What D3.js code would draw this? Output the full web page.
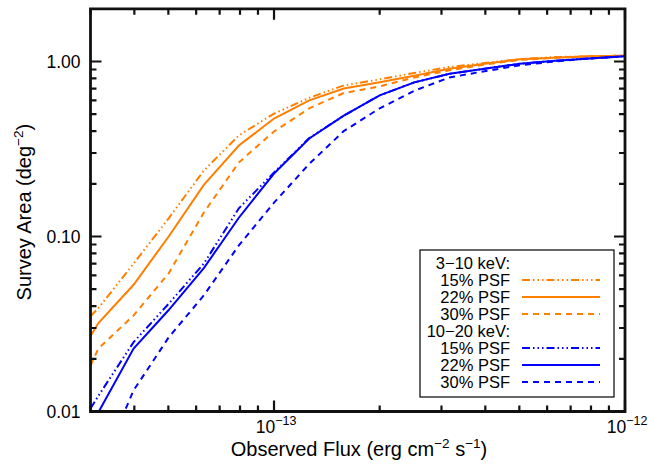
<!DOCTYPE html>
<html>
<head>
<meta charset="utf-8">
<script src="https://cdn.jsdelivr.net/npm/d3@7"></script>
<style>
  body { margin: 0; background: #fff; }
  svg { font-family: "Liberation Sans", Arial, Helvetica, sans-serif; }
</style>
</head>
<body>
<div id="chart"></div>
<script>
// flux grid (erg cm^-2 s^-1), 0.1 dex steps from 10^-13.5, plus left edge
var flux = [3.0e-14, 3.16e-14, 3.98e-14, 5.01e-14, 6.31e-14, 7.94e-14, 1.0e-13,
            1.26e-13, 1.58e-13, 2.0e-13, 2.51e-13, 3.16e-13, 3.98e-13, 5.01e-13,
            6.31e-13, 7.94e-13, 1.0e-12];

// 3-10 keV
var soft15 = [0.035, 0.039, 0.070, 0.127, 0.238, 0.378, 0.504, 0.62, 0.73, 0.79, 0.86, 0.93, 0.98, 1.03, 1.06, 1.07, 1.08];
var soft22 = [0.027, 0.032, 0.053, 0.100, 0.197, 0.331, 0.472, 0.60, 0.70, 0.76, 0.83, 0.91, 0.97, 1.03, 1.05, 1.07, 1.08];
var soft30 = [0.0183, 0.0229, 0.0354, 0.0616, 0.137, 0.265, 0.398, 0.54, 0.66, 0.72, 0.81, 0.89, 0.96, 1.02, 1.05, 1.07, 1.08];
// 10-20 keV
var hard15 = [0.0104, 0.0123, 0.0249, 0.0413, 0.070, 0.145, 0.232, 0.365, 0.49, 0.64, 0.76, 0.85, 0.91, 0.97, 1.01, 1.04, 1.07];
var hard22 = [0.0085, 0.0099, 0.0229, 0.038, 0.066, 0.128, 0.229, 0.363, 0.49, 0.64, 0.76, 0.85, 0.91, 0.97, 1.01, 1.04, 1.07];
var hard30 = [0.0036, 0.0045, 0.0132, 0.0265, 0.0461, 0.089, 0.156, 0.26, 0.40, 0.54, 0.68, 0.81, 0.88, 0.95, 1.00, 1.04, 1.07];

var xMajor = [1e-13, 1e-12];
var xMajorExp = ["\u221213", "\u221212"];
var yMajor = [0.01, 0.1, 1];
var yMajorLabels = ["0.01", "0.10", "1.00"];

var orange = "#ff7f00";
var blue = "#0000ff";
var ink = "#111111";
var dashDot3 = "8,3,1.5,3,1.5,3,1.5,3";
var dashes = "6,5";

var series = [
  {head: "3\u221210 keV:"},
  {name: "15% PSF", vals: soft15, color: orange, dash: dashDot3},
  {name: "22% PSF", vals: soft22, color: orange, dash: null},
  {name: "30% PSF", vals: soft30, color: orange, dash: dashes},
  {head: "10\u221220 keV:"},
  {name: "15% PSF", vals: hard15, color: blue, dash: dashDot3},
  {name: "22% PSF", vals: hard22, color: blue, dash: null},
  {name: "30% PSF", vals: hard30, color: blue, dash: dashes}
];

var width = 649, height = 470;
var pLeft = 90.5, pRight = 625, pTop = 8.8, pBottom = 411.5;

var svg = d3.select("#chart").append("svg")
  .attr("width", width)
  .attr("height", height);

var x = d3.scaleLog().domain([3e-14, 1e-12]).range([pLeft, pRight]);
var y = d3.scaleLog().domain([0.01, 2.0]).range([pBottom, pTop]);

// minor tick values
var xMinor = [];
[1e-14, 1e-13].forEach(function(base) {
  for (var k = 2; k <= 9; k++) {
    var v = k * base;
    if (v >= 3e-14 && v < 1e-12) xMinor.push(v);
  }
});
var yMinor = [];
[0.01, 0.1, 1].forEach(function(base) {
  for (var k = 2; k <= 9; k++) {
    var v = k * base;
    if (v < 1.99) yMinor.push(v);
  }
});

// curves, clipped by a nested svg viewport
var plotArea = svg.append("svg")
  .attr("x", pLeft).attr("y", pTop)
  .attr("width", pRight - pLeft).attr("height", pBottom - pTop)
  .attr("overflow", "hidden");
var curves = plotArea.append("g")
  .attr("transform", "translate(" + (-pLeft) + "," + (-pTop) + ")");

var curveLine = d3.line()
  .x(function(d) { return x(d[0]); })
  .y(function(d) { return y(d[1]); });

series.filter(function(s) { return s.vals; }).forEach(function(s) {
  curves.append("path")
    .attr("d", curveLine(flux.map(function(f, i) { return [f, s.vals[i]]; })))
    .attr("fill", "none")
    .attr("stroke", s.color)
    .attr("stroke-width", 2)
    .attr("stroke-dasharray", s.dash);
});

// frame as one filled ring, ticks as filled bars
var fw = 2.8;
var ring = d3.path();
ring.rect(pLeft - fw / 2, pTop - fw / 2, pRight - pLeft + fw, pBottom - pTop + fw);
ring.rect(pLeft + fw / 2, pTop + fw / 2, pRight - pLeft - fw, pBottom - pTop - fw);
svg.append("path")
  .attr("d", ring.toString())
  .attr("fill", ink)
  .attr("fill-rule", "evenodd");

var xTicks = xMajor.map(function(v) { return {v: v, len: 11}; })
  .concat(xMinor.map(function(v) { return {v: v, len: 6}; }));
var yTicks = yMajor.map(function(v) { return {v: v, len: 11}; })
  .concat(yMinor.map(function(v) { return {v: v, len: 6}; }));
var tw = 2.2;
var bars = d3.path();
xTicks.forEach(function(t) {
  var px = x(t.v);
  bars.rect(px - tw / 2, pBottom - t.len, tw, t.len);
  bars.rect(px - tw / 2, pTop, tw, t.len);
});
yTicks.forEach(function(t) {
  var py = y(t.v);
  bars.rect(pLeft, py - tw / 2, t.len, tw);
  bars.rect(pRight - t.len, py - tw / 2, t.len, tw);
});
svg.append("path")
  .attr("d", bars.toString())
  .attr("fill", ink);

// tick labels
svg.selectAll(".ylab").data(yMajor).enter().append("text")
  .attr("x", pLeft - 10)
  .attr("y", function(d) { return y(d) + 6.5; })
  .attr("text-anchor", "end")
  .attr("font-size", 17.5)
  .text(function(d, i) { return yMajorLabels[i]; });

var xl = svg.selectAll(".xlab").data(xMajor).enter().append("text")
  .attr("x", function(d) { return x(d) + 2; })
  .attr("y", 433)
  .attr("text-anchor", "middle")
  .attr("font-size", 17.5);
xl.append("tspan").text("10");
xl.append("tspan").attr("dy", -8).attr("font-size", 12.5).text(function(d, i) { return xMajorExp[i]; });

// axis titles
var xt = svg.append("text")
  .attr("x", 359)
  .attr("y", 456)
  .attr("text-anchor", "middle")
  .attr("font-size", 20);
xt.append("tspan").text("Observed Flux (erg cm");
xt.append("tspan").attr("dy", -8).attr("font-size", 13.5).text("\u22122");
xt.append("tspan").attr("dy", 8).text(" s");
xt.append("tspan").attr("dy", -8).attr("font-size", 13.5).text("\u22121");
xt.append("tspan").attr("dy", 8).text(")");

var yt = svg.append("text")
  .attr("transform", "translate(31," + ((pTop + pBottom) / 2 + 2) + ") rotate(-90)")
  .attr("text-anchor", "middle")
  .attr("font-size", 20);
yt.append("tspan").text("Survey Area (deg");
yt.append("tspan").attr("dy", -8).attr("font-size", 13.5).text("\u22122");
yt.append("tspan").attr("dy", 8).text(")");

// legend
var lg = svg.append("g").attr("transform", "translate(420,250)");
lg.append("rect")
  .attr("width", 194).attr("height", 147)
  .attr("fill", "#fff").attr("stroke", "#000").attr("stroke-width", 1.2);

var rows = lg.selectAll(".legend").data(series).enter().append("g")
  .attr("class", "legend")
  .attr("transform", function(d, i) { return "translate(0," + (13 + i * 17) + ")"; });

rows.append("text")
  .attr("x", 90)
  .attr("y", 5.5)
  .attr("text-anchor", "end")
  .attr("font-size", 16.5)
  .text(function(d) { return d.head || d.name; });

rows.filter(function(d) { return d.vals; }).append("line")
  .attr("x1", 102).attr("x2", 180)
  .attr("stroke", function(d) { return d.color; })
  .attr("stroke-width", 2)
  .attr("stroke-dasharray", function(d) { return d.dash; });
</script>
</body>
</html>
